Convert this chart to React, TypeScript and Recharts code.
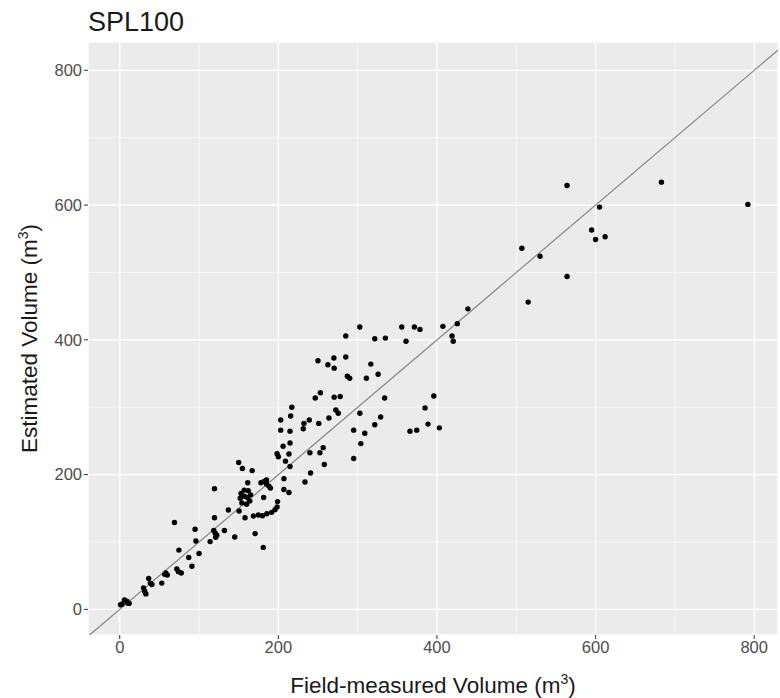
import { ScatterChart, Scatter, XAxis, YAxis, CartesianGrid, ReferenceLine } from 'recharts';

// field-measured volume (m3)
const fieldVolume = [
  1, 3, 6, 9, 10.5, 12, 30, 31.5, 33, 36.5, 38.6, 40.6, 53, 56.6, 58, 60, 72, 74, 77.6, 91,
  87, 100, 74.6, 69, 95, 96, 114, 119.5, 118.6, 120.4, 122.4, 121, 132, 137, 119.5,
  145, 150.5, 150, 154.7, 167, 161.4, 170.7, 181, 158, 168.6, 174.8, 180, 185.5, 191.6, 195.8,
  198.4, 199, 181.5, 152, 153, 157, 162, 165, 164, 160, 154, 157, 161, 178, 182, 185, 188, 190, 185,
  198.4, 200, 203, 203, 206, 207, 207, 209, 213.4, 213.4, 214.7, 214.7, 214.7, 215.5, 217,
  231.4, 232.3, 233.6, 239, 239.8, 240.6, 246.5, 250, 251, 252.4, 253, 256.6, 258, 262.5,
  263.8, 270, 270.4, 270.4, 272.5, 275.5, 278, 285, 285, 287, 290, 295, 295, 302.7, 302.8,
  304, 309, 311, 316.6, 321.6, 321.6, 325.8, 329, 334, 335, 355.6, 361, 366, 371.5, 374.5,
  378.6, 385, 388.7, 396, 403, 407.5, 419, 420.5, 425.6, 439,
  507, 515, 530, 564, 564, 595, 600, 605, 612, 683, 792,
];

// estimated volume (m3)
const estimatedVolume = [
  7, 8, 14, 12, 9, 9, 32, 27, 23, 46, 39, 37, 39, 52, 54, 51, 60, 56, 54, 64,
  77, 83, 88, 129, 119, 101.5, 100.6, 136, 117, 113, 110, 107, 117, 147.5, 179,
  107.5, 146, 218, 209, 206, 188, 112.5, 92, 136, 138.5, 140, 139, 142, 144, 148,
  152, 160, 166, 165, 172, 177, 176, 170, 161, 156, 158, 168, 166, 188, 190, 186, 183, 180, 192,
  231, 226.6, 281, 266, 242, 194, 178, 220, 230.5, 173.4, 264.5, 247, 212, 287, 300,
  268, 276, 189, 281, 232.5, 202.5, 313.6, 369, 276, 232.5, 321.5, 240, 215, 363,
  284, 373, 358, 315, 296, 291, 316, 405.6, 374.6, 346, 343, 266, 224, 419, 291,
  246, 261.5, 343, 364, 401.7, 274, 349, 285.6, 313.6, 402.6, 419, 398, 264.5, 419, 266,
  415.5, 299, 275, 316.6, 269.4, 420, 405.6, 398, 424, 446,
  536, 456, 524, 629, 494, 563, 549, 597, 553, 634, 601,
];

const xTicks = [0, 200, 400, 600, 800];
const yTicks = [0, 200, 400, 600, 800];
const minorLines = [100, 300, 500, 700];
const xDomain = [-40, 830];
const yDomain = [-38, 842];
const identityLine = [-100, 1000];

const points = fieldVolume.map((x, i) => ({ x, y: estimatedVolume[i] }));

const font = '"Liberation Sans", Arial, sans-serif';
const tickStyle = { fill: '#4D4D4D', fontSize: 16.5, fontFamily: font };

const Dot = (props: any) => <circle cx={props.cx} cy={props.cy} r={2.7} fill="#000" />;

const XTitle = (props: any) => {
  const { x, y, width } = props.viewBox;
  return (
    <text x={x + width / 2} y={y + 58} textAnchor="middle" fontSize={22.5} fontFamily={font} fill="#1A1A1A">
      Field-measured Volume (m<tspan dy={-9} fontSize={14}>3</tspan><tspan dy={9}>)</tspan>
    </text>
  );
};

const YTitle = (props: any) => {
  const { y, height } = props.viewBox;
  const cx = 37;
  const cy = y + height / 2;
  return (
    <text x={cx} y={cy} textAnchor="middle" fontSize={22.5} fontFamily={font} fill="#1A1A1A" transform={`rotate(-90, ${cx}, ${cy})`}>
      Estimated Volume (m<tspan dy={-9} fontSize={14}>3</tspan><tspan dy={9}>)</tspan>
    </text>
  );
};

export default function App() {
  return (
    <div style={{ position: 'absolute', left: 0, top: 0, width: 780, height: 698, background: '#fff' }}>
      <div style={{ position: 'absolute', left: 88, top: 7, fontSize: 27, fontFamily: font, color: '#1A1A1A', lineHeight: '30px' }}>
        SPL100
      </div>
      <ScatterChart width={780} height={698} margin={{ top: 42, right: 2, bottom: 0, left: 0 }}>
        <CartesianGrid fill="#EBEBEB" stroke="#FFFFFF" strokeWidth={1.3} />
        {minorLines.map(v => (
          <ReferenceLine key={`vx-${v}`} x={v} stroke="#FFFFFF" strokeWidth={0.6} />
        ))}
        {minorLines.map(v => (
          <ReferenceLine key={`hy-${v}`} y={v} stroke="#FFFFFF" strokeWidth={0.6} />
        ))}
        <XAxis
          type="number"
          dataKey="x"
          domain={xDomain}
          ticks={xTicks}
          allowDataOverflow
          height={63}
          axisLine={false}
          tickSize={4}
          tickLine={{ stroke: '#333333' }}
          tick={tickStyle}
          label={<XTitle />}
        />
        <YAxis
          type="number"
          dataKey="y"
          domain={yDomain}
          ticks={yTicks}
          allowDataOverflow
          width={88}
          axisLine={false}
          tickSize={4}
          tickLine={{ stroke: '#333333' }}
          tick={tickStyle}
          label={<YTitle />}
        />
        <ReferenceLine
          segment={[{ x: identityLine[0], y: identityLine[0] }, { x: identityLine[1], y: identityLine[1] }]}
          stroke="#8C8C8C"
          strokeWidth={1.3}
          ifOverflow="hidden"
        />
        <Scatter data={points} shape={<Dot />} isAnimationActive={false} />
      </ScatterChart>
    </div>
  );
}
